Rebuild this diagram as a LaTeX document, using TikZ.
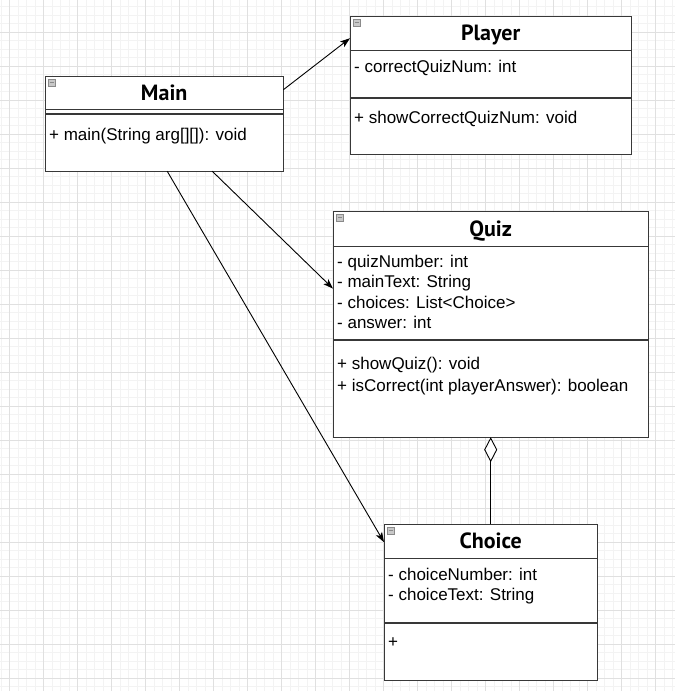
\documentclass[tikz,border=0pt]{standalone}
\usepackage{fontspec}
\setmainfont{Liberation Sans}
\newfontfamily\titlefont{PT Sans}
\usetikzlibrary{positioning,arrows.meta,calc}

\definecolor{gridminor}{HTML}{F3F3F3}
\definecolor{gridmajor}{HTML}{E0E0E0}
\definecolor{boxline}{HTML}{383838}
\definecolor{iconfill}{HTML}{C8C8C8}
\definecolor{iconline}{HTML}{8A8A8A}

\tikzset{
  classhead/.style={draw=boxline, fill=white, inner sep=0pt, anchor=north west,
    font=\titlefont\bfseries\fontsize{22}{26}\selectfont, text height=15.4pt, text depth=0pt},
  compart/.style={draw=boxline, fill=white, inner sep=0pt},
  member/.style={anchor=base west, inner sep=0pt, font=\fontsize{17}{20.5}\selectfont},
  classicon/.style={draw=iconline, fill=iconfill, inner sep=0pt, minimum size=7pt,
    path picture={\draw[iconline, line width=1pt]
      ([xshift=1.5pt]path picture bounding box.west) -- ([xshift=-1.5pt]path picture bounding box.east);}},
  dep/.style={draw=black, line width=0.9pt, -{Stealth[length=10pt,width=7pt,inset=2.5pt]}},
  aggr/.style={draw=black, line width=0.9pt, -{Diamond[fill=white,length=25pt,width=13pt]}},
}

\begin{document}
\begin{tikzpicture}[x=1pt, y=-1pt]
  \useasboundingbox (0,0) rectangle (675,691);
  \fill[white] (0,0) rectangle (675,691);

  % grid
  \foreach \i in {0,...,79}
    \draw[gridminor, line width=0.8pt] ({1+8.5*\i},0) -- ({1+8.5*\i},691);
  \foreach \i in {0,...,81}
    \draw[gridminor, line width=0.8pt] (0,{-2+8.5*\i}) -- (675,{-2+8.5*\i});
  \foreach \i in {0,...,19}
    \draw[gridmajor, line width=0.8pt] ({9.5+34*\i},0) -- ({9.5+34*\i},691);
  \foreach \i in {0,...,20}
    \draw[gridmajor, line width=0.8pt] (0,{-2+34*\i}) -- (675,{-2+34*\i});

  % Main
  \node[classhead, minimum width=238pt, minimum height=33pt] (mainhead) at (45,76) {Main};
  \node[compart, minimum width=238pt, minimum height=4pt, below=0pt of mainhead] (mainattr) {};
  \node[compart, minimum width=238pt, minimum height=57pt, below=0pt of mainattr] (mainops) {};
  \node[classicon] (mainicon) at ($(mainhead.north west)+(6.5,6.5)$) {};
  \node[member] (mainop1) at ($(mainops.north west)+(4,27)$) {+ main(String arg[][]): void};

  % Player
  \node[classhead, minimum width=281pt, minimum height=34pt] (playerhead) at (350,16) {Player};
  \node[compart, minimum width=281pt, minimum height=47pt, below=0pt of playerhead] (playerattr) {};
  \node[compart, minimum width=281pt, minimum height=56pt, below=0pt of playerattr] (playerops) {};
  \node[classicon] (playericon) at ($(playerhead.north west)+(6.5,6.5)$) {};
  \node[member] (playerattr1) at ($(playerattr.north west)+(4,22)$) {- correctQuizNum: int};
  \node[member] (playerop1) at ($(playerops.north west)+(4,26)$) {+ showCorrectQuizNum: void};

  % Quiz
  \node[classhead, minimum width=315pt, minimum height=35pt] (quizhead) at (333,211) {Quiz};
  \node[compart, minimum width=315pt, minimum height=93pt, below=0pt of quizhead] (quizattr) {};
  \node[compart, minimum width=315pt, minimum height=97pt, below=0pt of quizattr] (quizops) {};
  \node[classicon] (quizicon) at ($(quizhead.north west)+(6.5,6.5)$) {};
  \foreach \txt [count=\k] in {- quizNumber: int, - mainText: String,
      - choices: List<Choice>, - answer: int}
    \node[member] (quizattr\k) at ($(quizattr.north west)+(4,{21+20.4*(\k-1)})$) {\txt};
  \foreach \txt [count=\k] in {+ showQuiz(): void, + isCorrect(int playerAnswer): boolean}
    \node[member] (quizop\k) at ($(quizops.north west)+(4,{30+21.5*(\k-1)})$) {\txt};

  % Choice
  \node[classhead, minimum width=213pt, minimum height=34pt] (choicehead) at (384,524) {Choice};
  \node[compart, minimum width=213pt, minimum height=64pt, below=0pt of choicehead] (choiceattr) {};
  \node[compart, minimum width=213pt, minimum height=57pt, below=0pt of choiceattr] (choiceops) {};
  \node[classicon] (choiceicon) at ($(choicehead.north west)+(6.5,6.5)$) {};
  \foreach \txt [count=\k] in {- choiceNumber: int, - choiceText: String}
    \node[member] (choiceattr\k) at ($(choiceattr.north west)+(4,{22+20.4*(\k-1)})$) {\txt};
  \node[member] (choiceop1) at ($(choiceops.north west)+(4,25)$) {+};

  % relations
  \draw[dep] ([yshift=3pt]mainhead.east) -- ([yshift=-5pt]playerhead.west);
  \draw[dep] ([xshift=48pt]mainops.south) -- ([yshift=4.5pt]quizattr.west);
  \draw[dep] ([xshift=3pt]mainops.south) -- ([yshift=-1pt]choicehead.west);
  \draw[aggr] (choicehead.north) -- (quizops.south);
\end{tikzpicture}
\end{document}
